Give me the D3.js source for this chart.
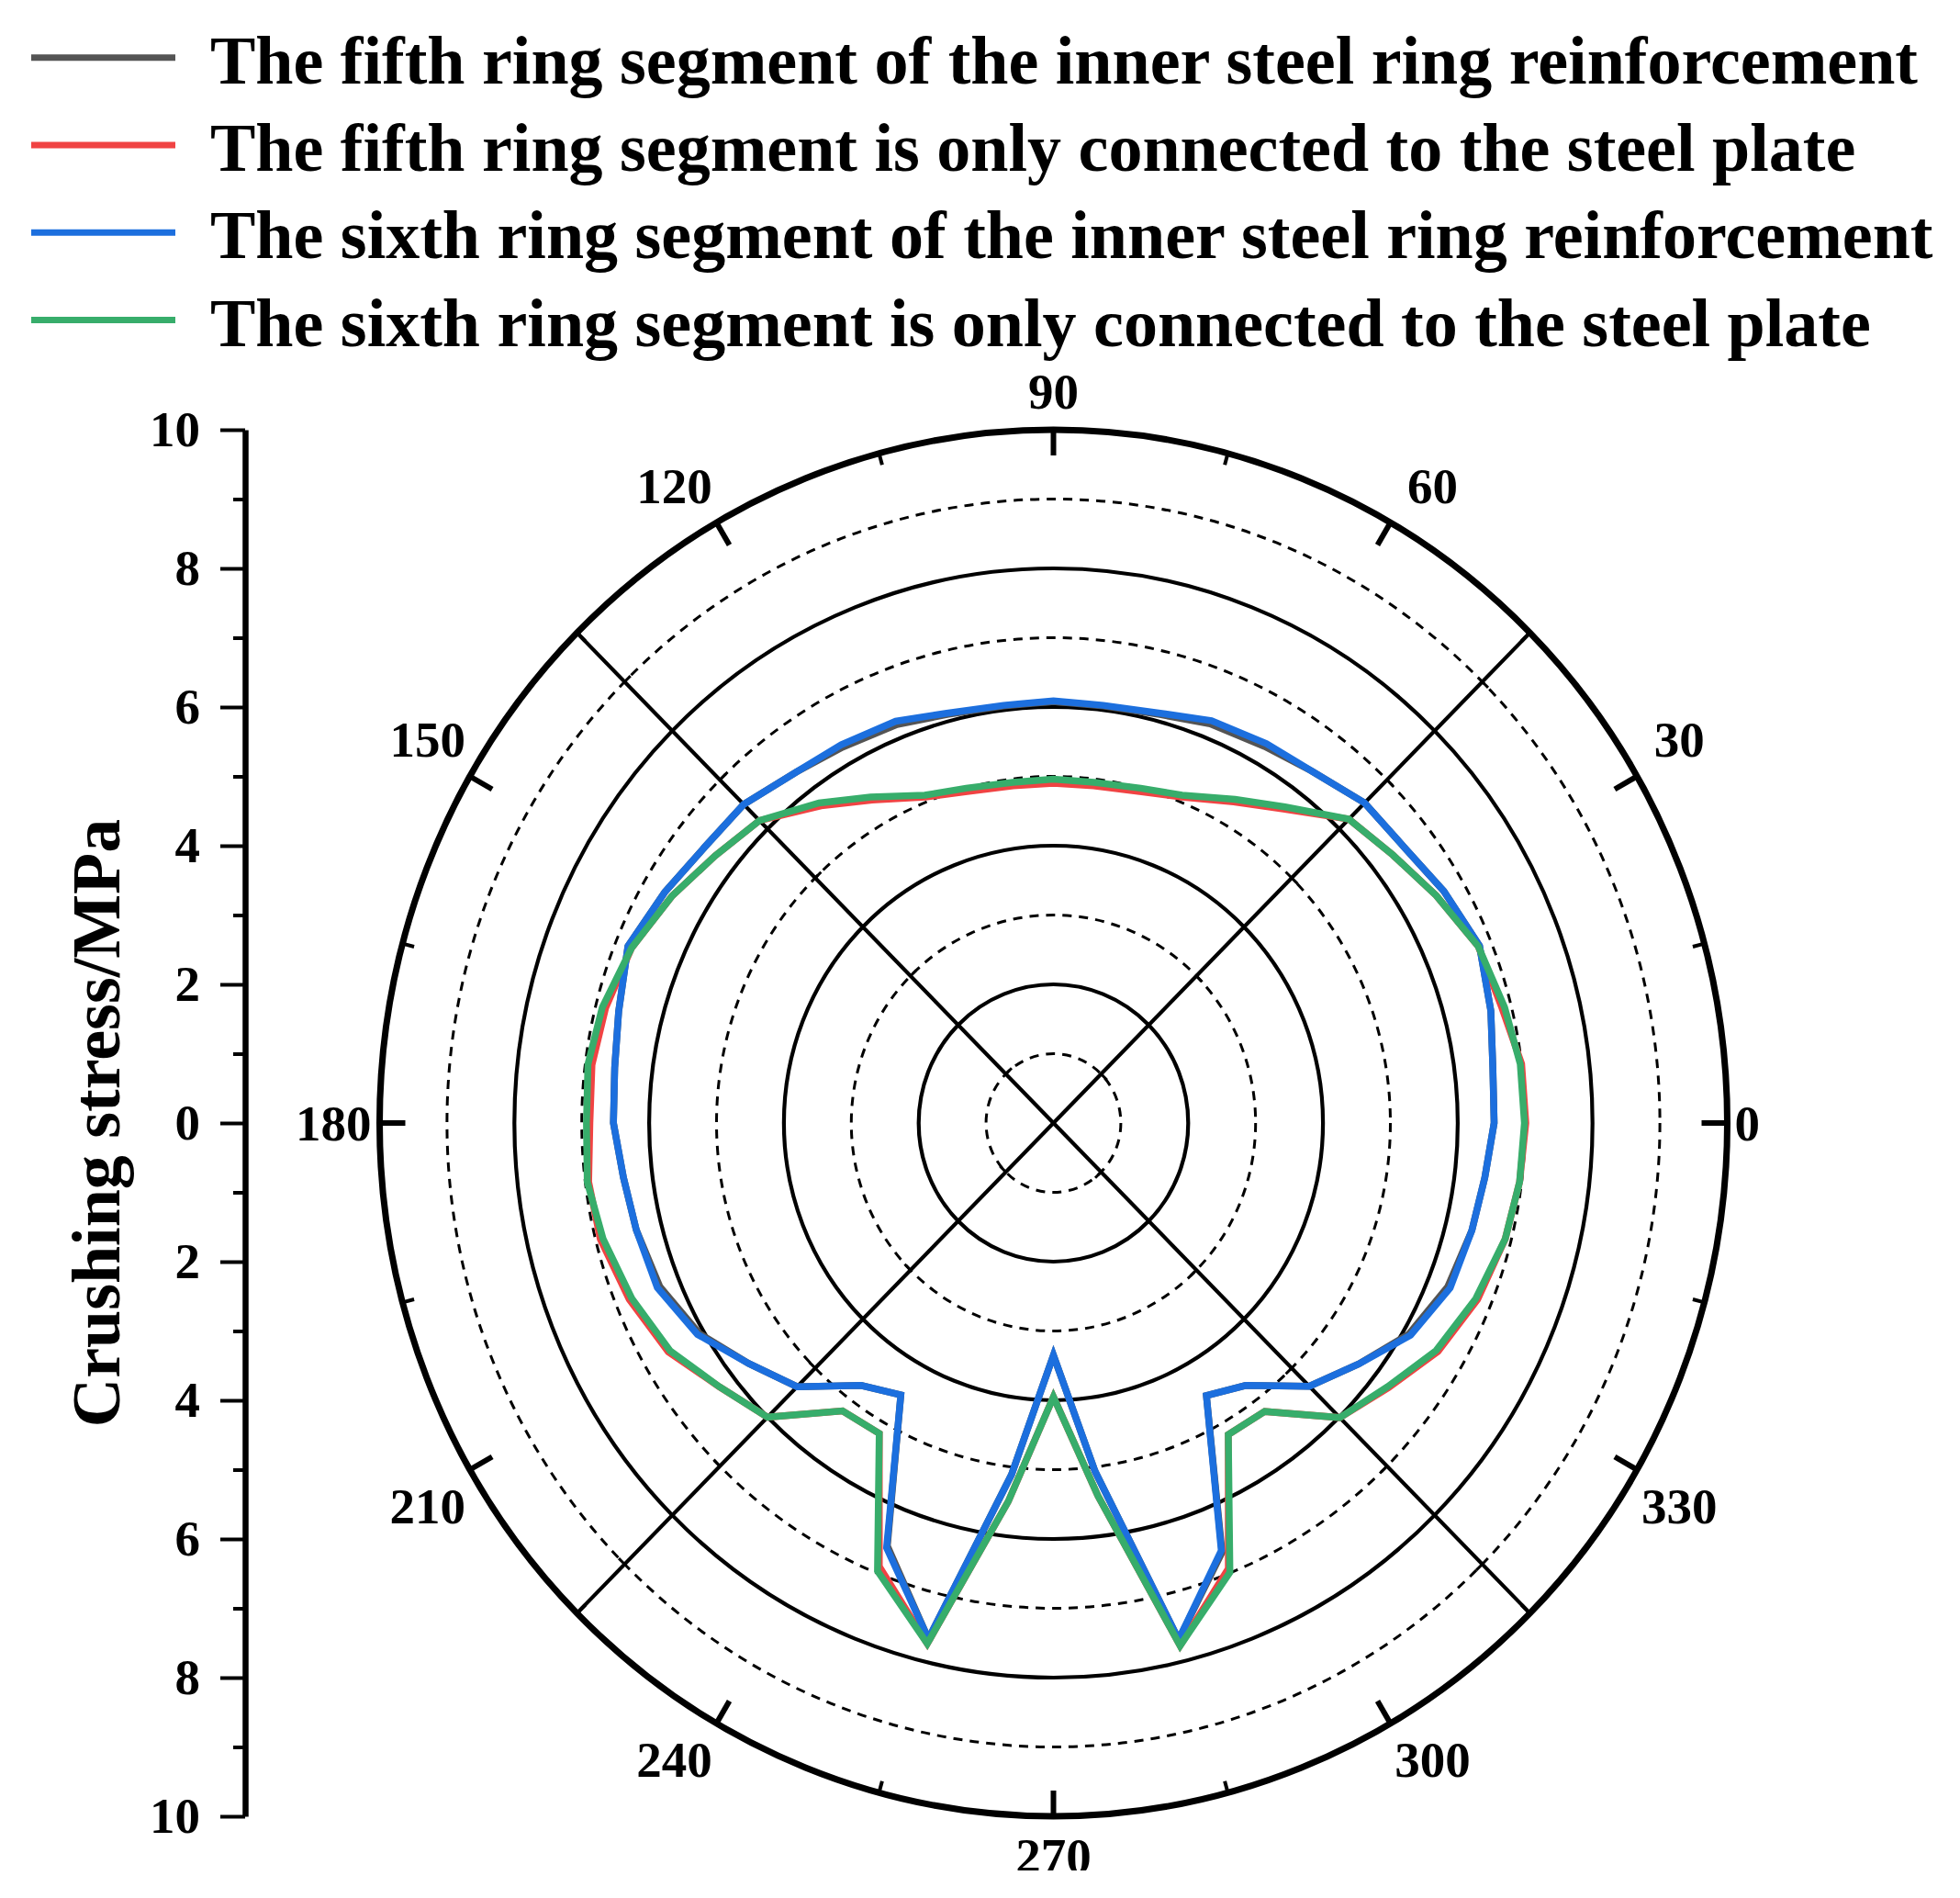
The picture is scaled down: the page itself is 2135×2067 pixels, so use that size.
<!DOCTYPE html>
<html>
<head>
<meta charset="utf-8">
<script src="https://cdn.jsdelivr.net/npm/d3@7/dist/d3.min.js"></script>
<style>
  body { margin: 0; background: #fff; }
  text { font-family: "Liberation Serif", "Times New Roman", serif; font-weight: bold; fill: #000; }
</style>
</head>
<body>
<svg id="chart" width="2135" height="2067"></svg>
<script>
const angles = [0, 7, 14, 22, 30, 37.5, 45, 53, 60, 68, 75, 83,
  90, 97, 105, 112, 120, 127, 135, 142.5, 150, 158, 166, 173,
  180, 187, 194, 202, 210, 217.5, 225, 233, 240, 248, 256, 263,
  270, 277, 284, 292, 300, 307, 315, 322.5, 330, 338, 346, 353];

// crushing stress, MPa
const fifthReinforced = [6.54, 6.57, 6.69, 6.82, 6.69, 6.55, 6.53, 6.36, 6.27, 6.21, 6.10, 6.06,
  6.08, 6.06, 6.10, 6.20, 6.26, 6.34, 6.50, 6.53, 6.66, 6.81, 6.65, 6.56,
  6.53, 6.43, 6.38, 6.30, 6.07, 5.70, 5.38, 4.74, 4.53, 6.58, 7.67, 5.11,
  3.35, 5.06, 7.68, 6.68, 4.54, 4.74, 5.37, 5.71, 6.09, 6.31, 6.40, 6.45];
const fifthPlate = [7.01, 7.00, 6.86, 6.80, 6.56, 6.35, 6.20, 5.67, 5.35, 5.07, 4.95, 4.90,
  4.90, 4.90, 4.95, 5.07, 5.38, 5.73, 6.17, 6.33, 6.54, 6.75, 6.85, 6.90,
  6.88, 6.95, 6.93, 6.79, 6.60, 6.25, 6.00, 5.20, 5.17, 6.90, 7.74, 5.50,
  3.95, 5.42, 7.77, 6.93, 5.19, 5.21, 6.01, 6.27, 6.59, 6.79, 6.91, 6.97];
const sixthReinforced = [6.54, 6.57, 6.69, 6.82, 6.69, 6.55, 6.53, 6.36, 6.32, 6.26, 6.12, 6.07,
  6.09, 6.07, 6.12, 6.25, 6.30, 6.34, 6.50, 6.53, 6.66, 6.81, 6.65, 6.56,
  6.53, 6.43, 6.38, 6.34, 6.10, 5.70, 5.38, 4.74, 4.53, 6.61, 7.67, 5.11,
  3.35, 5.06, 7.68, 6.65, 4.54, 4.74, 5.37, 5.71, 6.12, 6.35, 6.40, 6.45];
const sixthPlate = [6.99, 6.98, 6.90, 6.80, 6.56, 6.35, 6.20, 5.71, 5.39, 5.10, 5.00, 4.95,
  4.96, 4.95, 5.00, 5.10, 5.43, 5.78, 6.17, 6.33, 6.54, 6.75, 6.90, 6.96,
  6.93, 6.97, 6.89, 6.75, 6.57, 6.25, 6.00, 5.20, 5.17, 6.97, 7.74, 5.50,
  3.95, 5.42, 7.77, 6.99, 5.19, 5.21, 6.01, 6.25, 6.56, 6.76, 6.91, 6.97];

const seriesNames = [
  "The fifth ring segment of the inner steel ring reinforcement",
  "The fifth ring segment is only connected to the steel plate",
  "The sixth ring segment of the inner steel ring reinforcement",
  "The sixth ring segment is only connected to the steel plate"
];
const seriesColors = ["#545454", "#f04343", "#1c6fde", "#37ad6b"];
const seriesValues = [fifthReinforced, fifthPlate, sixthReinforced, sixthPlate];

const angleTicks = [0, 30, 60, 90, 120, 150, 180, 210, 240, 270, 300, 330];
const angleMinorTicks = [15, 45, 75, 105, 135, 165, 195, 225, 255, 285, 315, 345];
const solidRings = [2, 4, 6, 8];
const dashedRings = [1, 3, 5, 7, 9];
const spokeAngles = [45, 135, 225, 315];
const stressTicks = [-10, -8, -6, -4, -2, 0, 2, 4, 6, 8, 10];
const stressMinor = [-9, -7, -5, -3, -1, 1, 3, 5, 7, 9];

const svg = d3.select("#chart");
svg.append("rect").attr("width", 2135).attr("height", 2067).attr("fill", "#fff");

const cx = 1147.5, cy = 1223;
const rx = d3.scaleLinear().domain([0, 10]).range([0, 734]);
const ry = d3.scaleLinear().domain([0, 10]).range([0, 755]);
const rad = a => a * Math.PI / 180;
const px = (a, v) => cx + rx(v) * Math.cos(rad(a));
const py = (a, v) => cy - ry(v) * Math.sin(rad(a));

const grid = svg.append("g");

// rings
grid.selectAll(".ring").data(solidRings).enter().append("ellipse")
  .attr("cx", cx).attr("cy", cy)
  .attr("rx", d => rx(d)).attr("ry", d => ry(d))
  .attr("fill", "none").attr("stroke", "#000").attr("stroke-width", 4.2);
grid.selectAll(".dring").data(dashedRings).enter().append("ellipse")
  .attr("cx", cx).attr("cy", cy)
  .attr("rx", d => rx(d)).attr("ry", d => ry(d))
  .attr("fill", "none").attr("stroke", "#000").attr("stroke-width", 3)
  .attr("stroke-dasharray", "10,8");

// spokes
grid.selectAll(".spoke").data(spokeAngles).enter().append("line")
  .attr("x1", cx).attr("y1", cy)
  .attr("x2", d => px(d, 10)).attr("y2", d => py(d, 10))
  .attr("stroke", "#000").attr("stroke-width", 4.2);

// small ticks along spokes
spokeAngles.forEach(a => {
  dashedRings.forEach(v => {
    const x = px(a, v), y = py(a, v);
    const pa = rad(a - 90);
    grid.append("line")
      .attr("x1", x).attr("y1", y)
      .attr("x2", x + 9 * Math.cos(pa)).attr("y2", y - 9 * Math.sin(pa))
      .attr("stroke", "#000").attr("stroke-width", 3);
  });
});

// outer ring
grid.append("ellipse")
  .attr("cx", cx).attr("cy", cy).attr("rx", rx(10)).attr("ry", ry(10))
  .attr("fill", "none").attr("stroke", "#000").attr("stroke-width", 7);

// angular ticks (inward)
grid.selectAll(".atick").data(angleTicks).enter().append("line")
  .attr("x1", d => px(d, 10)).attr("y1", d => py(d, 10))
  .attr("x2", d => px(d, 10) - 28 * Math.cos(rad(d)))
  .attr("y2", d => py(d, 10) + 28 * Math.sin(rad(d)))
  .attr("stroke", "#000").attr("stroke-width", 6);
grid.selectAll(".amtick").data(angleMinorTicks).enter().append("line")
  .attr("x1", d => px(d, 10)).attr("y1", d => py(d, 10))
  .attr("x2", d => px(d, 10) - 13 * Math.cos(rad(d)))
  .attr("y2", d => py(d, 10) + 13 * Math.sin(rad(d)))
  .attr("stroke", "#000").attr("stroke-width", 4);

// angular labels
svg.append("clipPath").attr("id", "clipLabels")
  .append("rect").attr("x", 0).attr("y", 0).attr("width", 2135).attr("height", 2037);
const alabels = svg.append("g").attr("clip-path", "url(#clipLabels)");
angleTicks.forEach(a => {
  const c = Math.cos(rad(a)), s = Math.sin(rad(a));
  let x = px(a, 10), y = py(a, 10), anchor = "middle";
  if (Math.abs(s) < 0.01) { x += c > 0 ? 8 : -9; anchor = c > 0 ? "start" : "end"; }
  else if (Math.abs(c) < 0.01) { y += s > 0 ? -42 : 43; }
  else { x += Math.sign(c) * 46; y -= Math.sign(s) * 40; }
  alabels.append("text")
    .attr("x", x).attr("y", y)
    .attr("text-anchor", anchor)
    .attr("dominant-baseline", "central")
    .style("font-size", "55px")
    .text(a);
});

// data lines
const line = d3.line()
  .x(d => px(d[0], d[1]))
  .y(d => py(d[0], d[1]))
  .curve(d3.curveLinearClosed);

seriesValues.forEach((vals, i) => {
  svg.append("path")
    .datum(angles.map((a, j) => [a, vals[j]]))
    .attr("d", line)
    .attr("fill", "none")
    .attr("stroke", seriesColors[i])
    .attr("stroke-width", 7.5)
    .attr("stroke-linejoin", "miter");
});

// left stress axis
const yScale = d3.scaleLinear().domain([-10, 10]).range([cy + 755, cy - 755]);
const axisG = svg.append("g").attr("transform", "translate(267,0)");
axisG.call(d3.axisLeft(yScale).tickValues(stressTicks).tickSize(27).tickSizeOuter(0)
  .tickPadding(22).tickFormat(d => Math.abs(d)));
axisG.select(".domain").attr("stroke-width", 6.5);
axisG.selectAll(".tick line").attr("stroke-width", 4);
axisG.selectAll(".tick text")
  .attr("font-family", null).attr("font-size", null)
  .style("font-size", "55px").attr("fill", "#000");
axisG.attr("font-family", null).attr("font-size", null);

const minorG = svg.append("g").attr("transform", "translate(267,0)");
minorG.call(d3.axisLeft(yScale).tickValues(stressMinor).tickSize(13).tickFormat(""));
minorG.select(".domain").remove();
minorG.selectAll(".tick line").attr("stroke-width", 4);

svg.append("text")
  .attr("transform", "translate(130," + cy + ") rotate(-90)")
  .attr("text-anchor", "middle")
  .style("font-size", "74px")
  .text("Crushing stress/MPa");

// legend
const legend = svg.append("g");
seriesNames.forEach((name, i) => {
  const base = 90.7 + i * 95.3;
  legend.append("line")
    .attr("x1", 34).attr("x2", 191)
    .attr("y1", base - 28).attr("y2", base - 28)
    .attr("stroke", seriesColors[i]).attr("stroke-width", 7);
  legend.append("text")
    .attr("x", 229).attr("y", base)
    .style("font-size", "74px")
    .text(name);
});
</script>
</body>
</html>
